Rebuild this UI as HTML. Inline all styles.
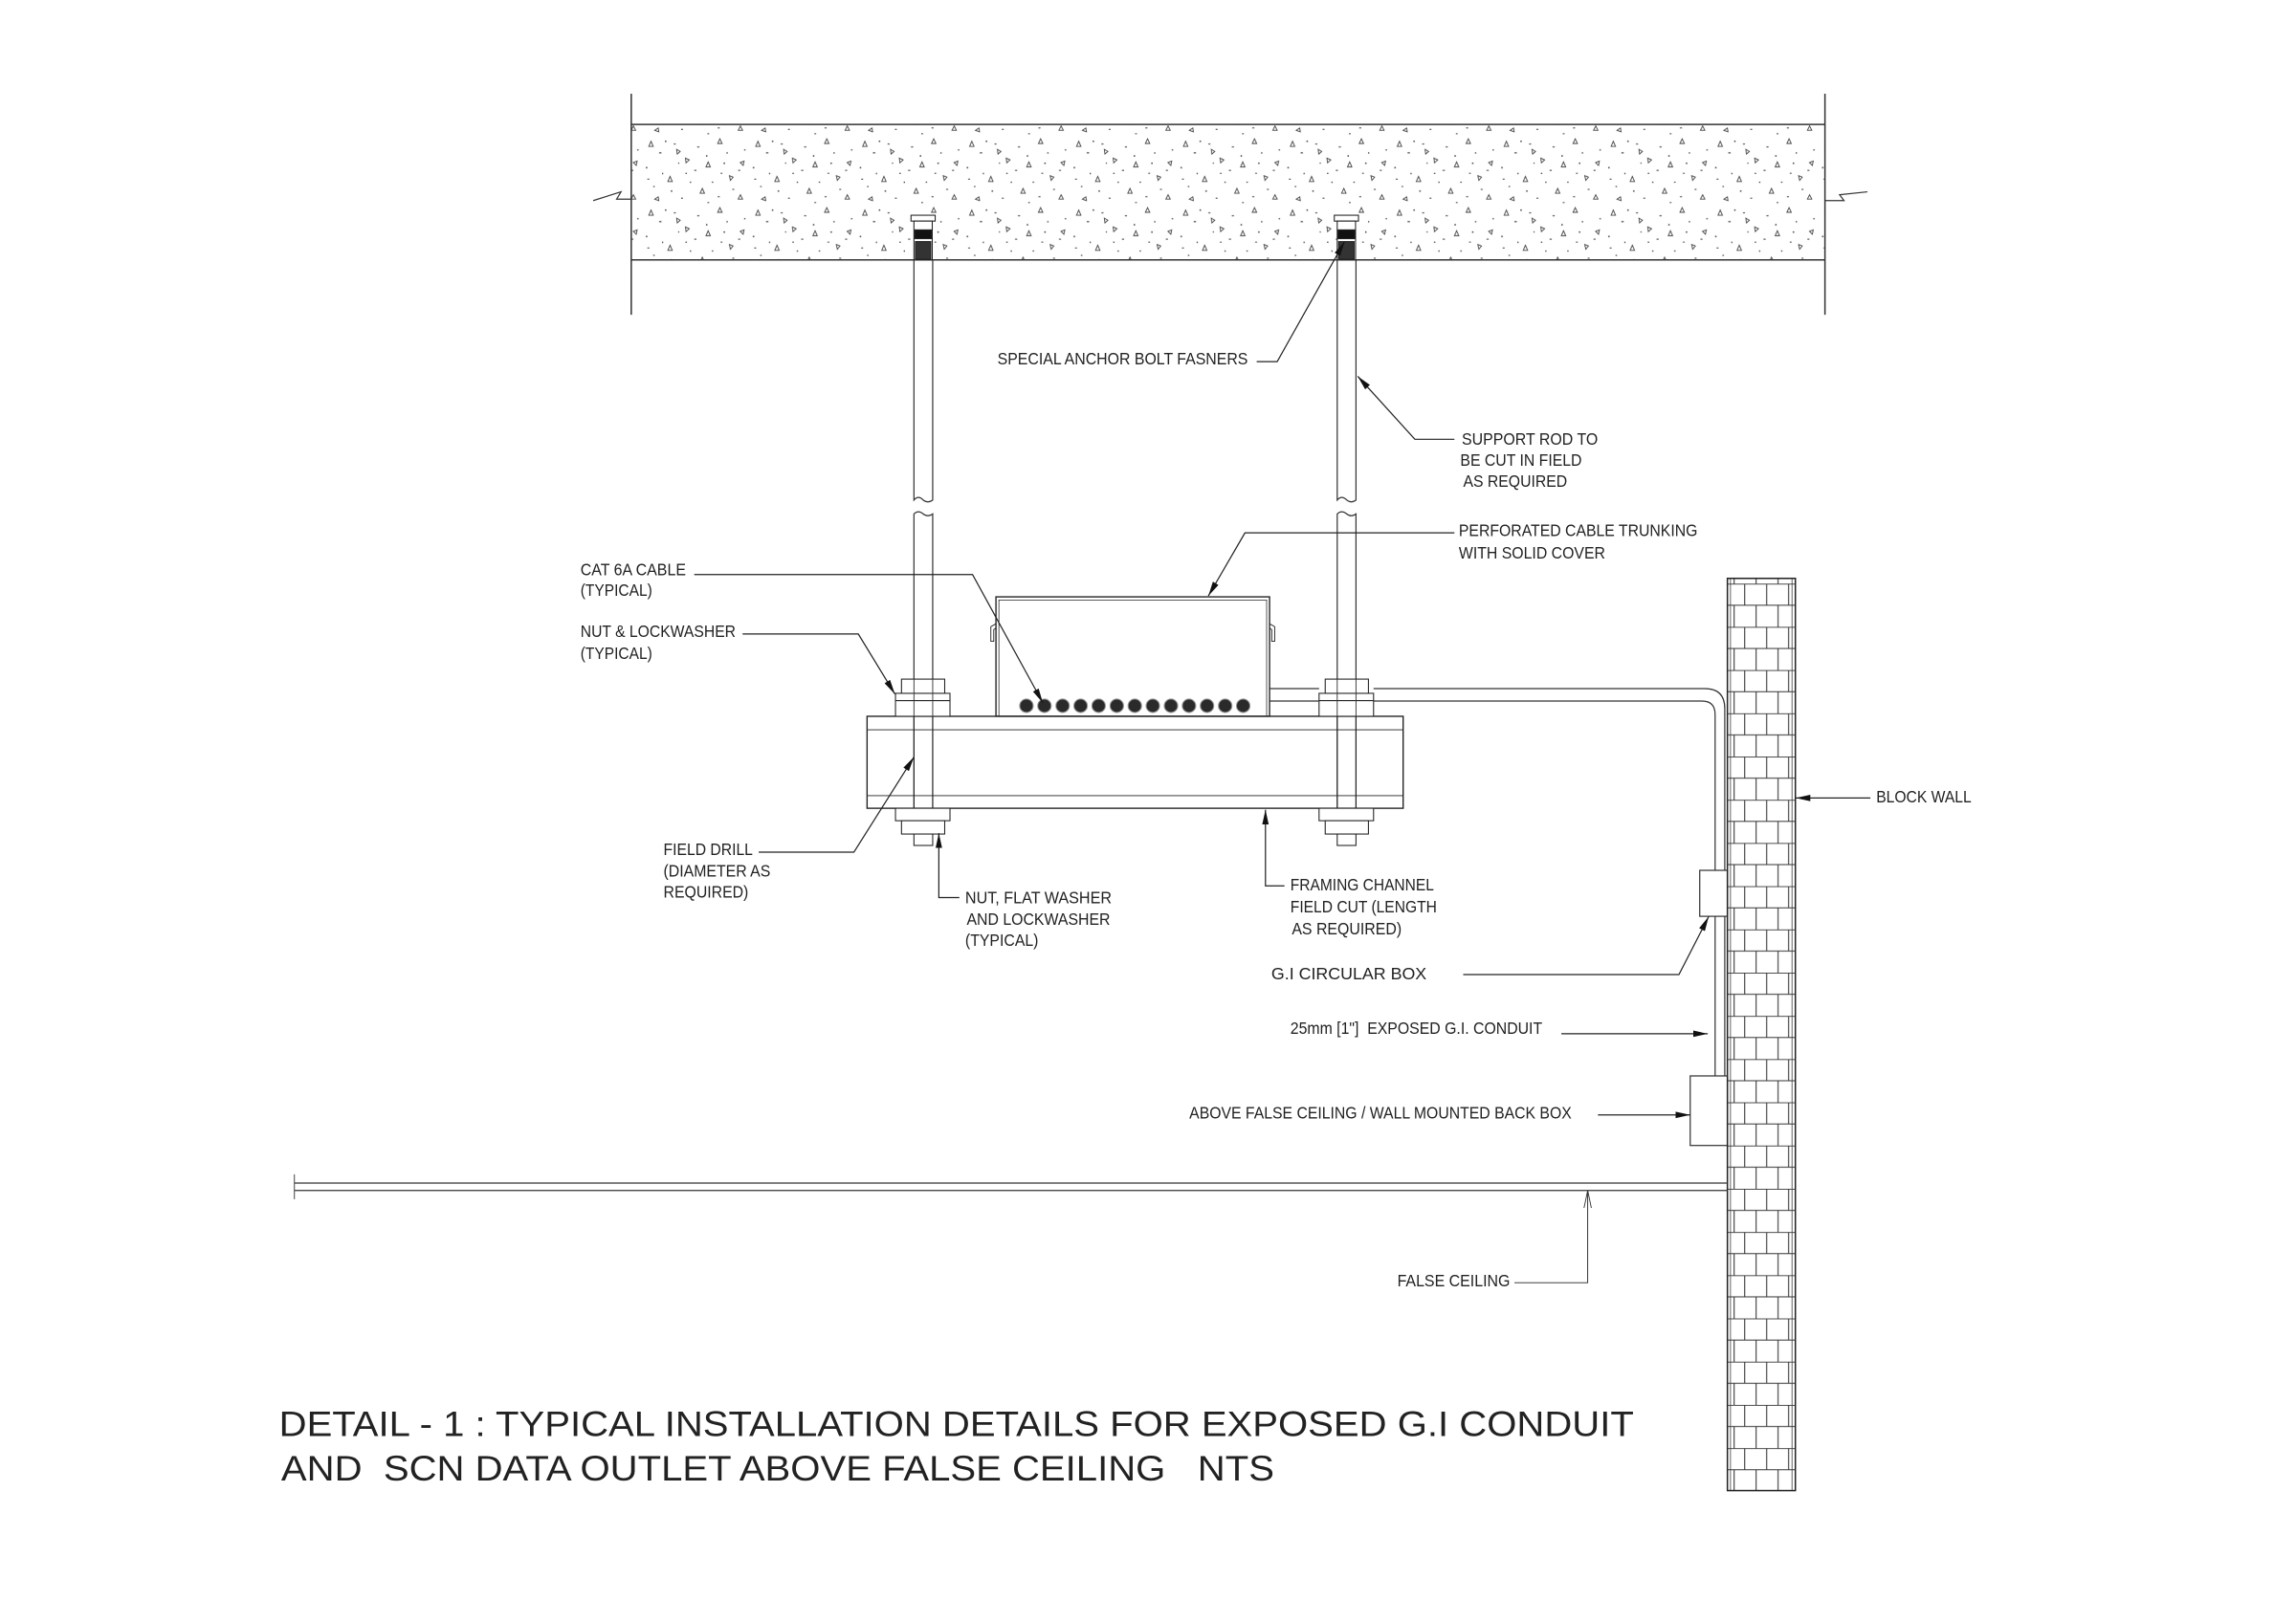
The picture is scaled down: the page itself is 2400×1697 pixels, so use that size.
<!DOCTYPE html>
<html><head><meta charset="utf-8"><style>
html,body{margin:0;padding:0;background:#fff;}
svg{display:block;}
text{font-family:"Liberation Sans",Arial,sans-serif;fill:#222;white-space:pre;}
</style></head><body>
<svg width="2400" height="1697" viewBox="0 0 2400 1697" xmlns="http://www.w3.org/2000/svg" xml:space="preserve">
<defs>
<pattern id="conc" patternUnits="userSpaceOnUse" x="0" y="0" width="73" height="47">
<g fill="none" stroke="#444" stroke-width="0.6">
<path d="M5 6 l3 0 l-1.5 -3.5z"/><path d="M30 14 l2.6 1.2 l-2.2 2z"/><path d="M52 4 l3 0 l-1.5 -3.2z"/>
<path d="M18 30 l3 0 l-1.5 -3.5z"/><path d="M60 26 l2.5 1 l-1.8 2.2z"/><path d="M40 38 l3 0 l-1.5 -3.3z"/>
<path d="M9 42 l2.4 -1.6 l0.4 2.6z"/><path d="M66 42 l3 0 l-1.5 -3z"/>
<path d="M44 20 l3 0 l-1.5 -3.4z"/><path d="M24 8 l2.4 1.4 l-2 1.8z"/><path d="M70 16 l-2.6 1 l2 2z"/>
</g>
<g fill="#444">
<rect x="12" y="10" width="1.6" height="0.8"/><rect x="22" y="4" width="1.4" height="0.7"/><rect x="44" y="12" width="1" height="1"/>
<rect x="36" y="22" width="1.5" height="0.7"/><rect x="48" y="30" width="1" height="0.8"/><rect x="3" y="20" width="1" height="1"/>
<rect x="27" y="41" width="1.3" height="0.7"/><rect x="56" y="17" width="1" height="1"/><rect x="70" y="8" width="1" height="0.8"/>
<rect x="14" y="24" width="0.8" height="1"/><rect x="62" y="35" width="1.3" height="0.7"/><rect x="33" y="30" width="0.9" height="0.9"/>
<rect x="8" y="33" width="1" height="0.8"/><rect x="45" y="44" width="1.2" height="0.7"/><rect x="25" y="17" width="0.8" height="0.8"/>
<rect x="38" y="6" width="1.5" height="0.7"/><rect x="58" y="10" width="0.9" height="0.9"/><rect x="66" y="22" width="1.4" height="0.7"/>
<rect x="20" y="36" width="1" height="1"/><rect x="52" y="40" width="1.4" height="0.7"/><rect x="4" y="28" width="1.3" height="0.7"/>
<rect x="30" y="24" width="1" height="0.8"/><rect x="16" y="2" width="1" height="1"/><rect x="54" y="24" width="1.2" height="0.7"/>
</g>
</pattern>
<pattern id="brick" patternUnits="userSpaceOnUse" x="1179.4" y="398.6" width="46.4" height="29.52">
<g stroke="#333" stroke-width="0.7" fill="none">
<line x1="0" y1="0.2" x2="46.4" y2="0.2"/><line x1="0" y1="14.76" x2="46.4" y2="14.76"/>
<line x1="11.8" y1="0" x2="11.8" y2="14.76"/><line x1="26.8" y1="0" x2="26.8" y2="14.76"/><line x1="41.8" y1="0" x2="41.8" y2="14.76"/>
<line x1="4.6" y1="14.76" x2="4.6" y2="29.52"/><line x1="19.6" y1="14.76" x2="19.6" y2="29.52"/><line x1="34.6" y1="14.76" x2="34.6" y2="29.52"/>
</g>
</pattern>
<marker id="ar" viewBox="0 0 10 6" refX="10" refY="3" markerWidth="10" markerHeight="6" markerUnits="userSpaceOnUse" orient="auto">
<path d="M0 0.8 L10 3 L0 5.2z" fill="#111"/></marker>
<marker id="oa" viewBox="0 0 12 6" refX="12" refY="3" markerWidth="12" markerHeight="6" markerUnits="userSpaceOnUse" orient="auto">
<path d="M0 0.5 L12 3 L0 5.5" fill="none" stroke="#333" stroke-width="0.6"/></marker>
</defs>
<g transform="scale(1.531)">
<rect x="431" y="85" width="815" height="92.5" fill="url(#conc)"/>
<g stroke="#333" stroke-width="1" fill="none">
<line x1="431" y1="85" x2="1246" y2="85"/><line x1="431" y1="177.5" x2="1246" y2="177.5"/>
<line x1="431" y1="64" x2="431" y2="215"/><line x1="1246" y1="64" x2="1246" y2="215"/>
<path d="M405 137 L424 131 L421 136 L431 136" stroke-width="0.8"/>
<path d="M1275 131 L1256 133 L1259 137 L1246 137" stroke-width="0.8"/>
</g>
<g stroke="#222" stroke-width="0.7">
<rect x="622" y="147" width="16.5" height="4" fill="#fff"/>
<rect x="624" y="151" width="12.5" height="26.5" fill="#fff"/>
<rect x="624.5" y="157" width="11.5" height="6" fill="#111"/>
<rect x="625" y="165" width="10.5" height="12" fill="#333"/>
<rect x="911" y="147" width="16.5" height="4" fill="#fff"/>
<rect x="913" y="151" width="12.5" height="26.5" fill="#fff"/>
<rect x="913.5" y="157" width="11.5" height="6" fill="#111"/>
<rect x="914" y="165" width="10.5" height="12" fill="#333"/>
</g>
<g stroke="#333" stroke-width="0.8" fill="none">
<path d="M624 177.5 V341.5 Q627 338 630.3 341.5 Q633.5 344 636.8 341.5 V177.5"/>
<path d="M624 566 V351 Q627 348 630.3 351 Q633.5 353.5 636.8 351 V566"/>
<path d="M913 177.5 V341.5 Q916 338 919.5 341.5 Q922.5 344 925.8 341.5 V177.5"/>
<path d="M913 566 V351 Q916 348 919.5 351 Q922.5 353.5 925.8 351 V566"/>
</g>
<g stroke="#222" stroke-width="0.9" fill="none">
<rect x="592" y="489.2" width="366" height="62.8"/>
<line x1="592" y1="498.4" x2="958" y2="498.4" stroke-width="0.6"/>
<line x1="592" y1="543.4" x2="958" y2="543.4" stroke-width="0.6"/>
<line x1="624" y1="489.2" x2="624" y2="552" stroke-width="0.6"/><line x1="636.8" y1="489.2" x2="636.8" y2="552" stroke-width="0.6"/>
<line x1="913" y1="489.2" x2="913" y2="552" stroke-width="0.6"/><line x1="925.8" y1="489.2" x2="925.8" y2="552" stroke-width="0.6"/>
</g>
<g stroke="#222" stroke-width="0.7" fill="#fff">
<rect x="611.4" y="473.5" width="37.2" height="15.7"/><line x1="611.4" y1="478.5" x2="648.6" y2="478.5"/>
<rect x="615.5" y="463.8" width="29.5" height="9.7"/>
<rect x="900.6" y="473.5" width="37.2" height="15.7"/><line x1="900.6" y1="478.5" x2="937.8" y2="478.5"/>
<rect x="904.8" y="463.8" width="29.5" height="9.7"/>
<rect x="611.4" y="552" width="37.2" height="8.5"/>
<rect x="615.5" y="560.5" width="29.5" height="9.1"/><rect x="624" y="569.6" width="12.8" height="7.8"/>
<rect x="900.6" y="552" width="37.2" height="8.5"/>
<rect x="904.8" y="560.5" width="29.5" height="9.1"/><rect x="913" y="569.6" width="12.8" height="7.8"/>
</g>
<g stroke="#333" stroke-width="0.6" fill="none">
<line x1="624" y1="463.8" x2="624" y2="489.2"/><line x1="636.8" y1="463.8" x2="636.8" y2="489.2"/>
<line x1="913" y1="463.8" x2="913" y2="489.2"/><line x1="925.8" y1="463.8" x2="925.8" y2="489.2"/>
</g>
<g stroke="#222" stroke-width="0.9" fill="none">
<path d="M680 489.2 V407.6 H866.8 V489.2 Z"/>
<path d="M682 489.2 V409.8 H864.8 V489.2" stroke-width="0.5"/>
<path d="M680 426 L676.5 428 V438 H678.5 V430 L680 429" stroke-width="0.6"/>
<path d="M866.8 426 L870.3 428 V438 H868.3 V430 L866.8 429" stroke-width="0.6"/>
</g>
<g fill="#2a2a2a" stroke="#999" stroke-width="0.7">
<circle cx="700.8" cy="482" r="4.6"/><circle cx="713.1" cy="482" r="4.6"/><circle cx="725.5" cy="482" r="4.6"/>
<circle cx="737.8" cy="482" r="4.6"/><circle cx="750.1" cy="482" r="4.6"/><circle cx="762.5" cy="482" r="4.6"/>
<circle cx="774.8" cy="482" r="4.6"/><circle cx="787.1" cy="482" r="4.6"/><circle cx="799.5" cy="482" r="4.6"/>
<circle cx="811.8" cy="482" r="4.6"/><circle cx="824.1" cy="482" r="4.6"/><circle cx="836.5" cy="482" r="4.6"/>
<circle cx="848.8" cy="482" r="4.6"/>
</g>
<g stroke="#333" stroke-width="0.8" fill="none">
<path d="M866.8 470.3 H900.6 M937.8 470.3 H1164 Q1177.6 470.3 1177.6 484 V594.4"/>
<path d="M866.8 478.8 H900.6 M937.8 478.8 H1162 Q1171 478.8 1171 488 V594.4"/>
<line x1="1171" y1="625.8" x2="1171" y2="734.8"/><line x1="1177.6" y1="625.8" x2="1177.6" y2="734.8"/>
<rect x="1160.5" y="594.4" width="18.9" height="31.4" fill="#fff"/>
<rect x="1154" y="734.8" width="25.4" height="47.5" fill="#fff"/>
</g>
<rect x="1179.4" y="395" width="46.4" height="623" fill="url(#brick)" stroke="#222" stroke-width="1"/>
<line x1="1181.5" y1="395" x2="1181.5" y2="1018" stroke="#333" stroke-width="0.5"/>
<line x1="1223.5" y1="395" x2="1223.5" y2="1018" stroke="#333" stroke-width="0.5"/>
<g stroke="#333" stroke-width="0.8">
<line x1="201" y1="808" x2="1179.4" y2="808"/><line x1="201" y1="813" x2="1179.4" y2="813"/>
<line x1="201" y1="802" x2="201" y2="819" stroke-width="0.6"/>
</g>
<g stroke="#222" stroke-width="0.8" fill="none">
<path d="M858 247 H872 L918 165" marker-end="url(#ar)"/>
<path d="M993 300 H966 L927 257" marker-end="url(#ar)"/>
<path d="M993 363.9 H850 L825 407" marker-end="url(#ar)"/>
<path d="M474 392.4 H664 L712 480" marker-end="url(#ar)"/>
<path d="M507 433 H586 L611 474" marker-end="url(#ar)"/>
<path d="M518 582 H583 L624 517" marker-end="url(#ar)"/>
<path d="M655 613 H641 V569" marker-end="url(#ar)"/>
<path d="M877 605 H864 V553" marker-end="url(#ar)"/>
<path d="M1277 545 H1226" marker-end="url(#ar)"/>
<path d="M999 665.6 H1146.3 L1166.6 626" marker-end="url(#ar)"/>
<path d="M1066 706 H1166" marker-end="url(#ar)"/>
<path d="M1091 761.4 H1154" marker-end="url(#ar)"/>
<path d="M1034 876 H1084 V813" marker-end="url(#oa)" stroke-width="0.6"/>
</g>
<g font-size="11.5" lengthAdjust="spacingAndGlyphs">
<text x="681" y="249" textLength="171" lengthAdjust="spacingAndGlyphs">SPECIAL ANCHOR BOLT FASNERS</text>
<text x="998" y="303.7" textLength="93" lengthAdjust="spacingAndGlyphs">SUPPORT ROD TO</text>
<text x="997" y="318" textLength="83" lengthAdjust="spacingAndGlyphs">BE CUT IN FIELD</text>
<text x="999" y="332.5" textLength="71" lengthAdjust="spacingAndGlyphs">AS REQUIRED</text>
<text x="996" y="366" textLength="163" lengthAdjust="spacingAndGlyphs">PERFORATED CABLE TRUNKING</text>
<text x="996" y="381.5" textLength="100" lengthAdjust="spacingAndGlyphs">WITH SOLID COVER</text>
<text x="396.3" y="393" textLength="72" lengthAdjust="spacingAndGlyphs">CAT 6A CABLE</text>
<text x="396.3" y="407" textLength="49" lengthAdjust="spacingAndGlyphs">(TYPICAL)</text>
<text x="396.3" y="435" textLength="106" lengthAdjust="spacingAndGlyphs">NUT &amp; LOCKWASHER</text>
<text x="396.3" y="450" textLength="49" lengthAdjust="spacingAndGlyphs">(TYPICAL)</text>
<text x="453" y="584" textLength="61" lengthAdjust="spacingAndGlyphs">FIELD DRILL</text>
<text x="453" y="598.5" textLength="73" lengthAdjust="spacingAndGlyphs">(DIAMETER AS</text>
<text x="453" y="613" textLength="58" lengthAdjust="spacingAndGlyphs">REQUIRED)</text>
<text x="659" y="617" textLength="100" lengthAdjust="spacingAndGlyphs">NUT, FLAT WASHER</text>
<text x="660" y="631.5" textLength="98" lengthAdjust="spacingAndGlyphs">AND LOCKWASHER</text>
<text x="659" y="646" textLength="50" lengthAdjust="spacingAndGlyphs">(TYPICAL)</text>
<text x="881" y="608" textLength="98" lengthAdjust="spacingAndGlyphs">FRAMING CHANNEL</text>
<text x="881" y="623" textLength="100" lengthAdjust="spacingAndGlyphs">FIELD CUT (LENGTH</text>
<text x="882" y="638" textLength="75" lengthAdjust="spacingAndGlyphs">AS REQUIRED)</text>
<text x="1281" y="548" textLength="65" lengthAdjust="spacingAndGlyphs">BLOCK WALL</text>
<text x="868" y="669" textLength="106" lengthAdjust="spacingAndGlyphs">G.I CIRCULAR BOX</text>
<text x="881" y="706" textLength="172" lengthAdjust="spacingAndGlyphs">25mm [1"]  EXPOSED G.I. CONDUIT</text>
<text x="812" y="764" textLength="261" lengthAdjust="spacingAndGlyphs">ABOVE FALSE CEILING / WALL MOUNTED BACK BOX</text>
<text x="954" y="878.5" textLength="77" lengthAdjust="spacingAndGlyphs">FALSE CEILING</text>
</g>
<g font-size="24.5" fill="#111">
<text x="190.5" y="980.8" textLength="925" lengthAdjust="spacingAndGlyphs">DETAIL - 1 : TYPICAL INSTALLATION DETAILS FOR EXPOSED G.I CONDUIT</text>
<text x="192" y="1011" textLength="678" lengthAdjust="spacingAndGlyphs">AND  SCN DATA OUTLET ABOVE FALSE CEILING   NTS</text>
</g>
</g>
</svg>
</body></html>
